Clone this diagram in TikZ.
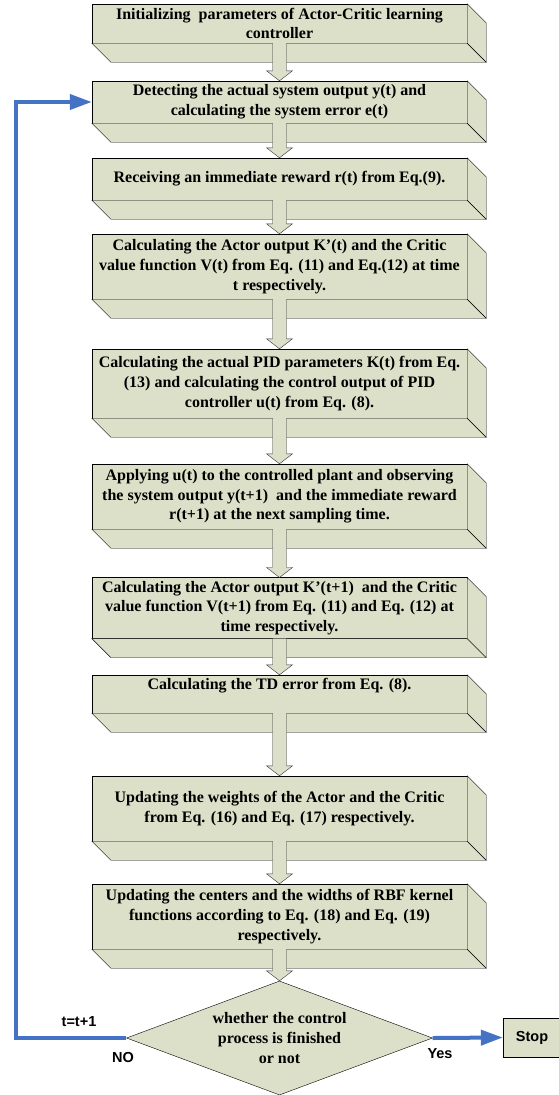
\documentclass[tikz,border=0pt]{standalone}
\usepackage{fontspec}
\setmainfont{Liberation Serif}
\setsansfont{Liberation Sans}
\usetikzlibrary{calc,arrows.meta,shapes.geometric}

\definecolor{boxfill}{RGB}{221,224,201}
\definecolor{loopblue}{RGB}{68,114,196}

\tikzset{
  txt/.style={font=\bfseries\fontsize{16}{19.7}\selectfont},
  stepbox/.style={txt, draw=black, fill=boxfill, align=center, inner xsep=2pt,
    minimum width=375pt},
  face/.style={draw=black, fill=boxfill},
  arrowbody/.style={draw=black!80, fill=boxfill},
  loopline/.style={draw=loopblue, line width=4pt, -{Triangle[length=22pt,width=15pt]}},
  lbl/.style={font=\sffamily\bfseries\fontsize{14.5}{17}\selectfont}
}

% bottom and right faces of a box
\newcommand{\depthfaces}[1]{%
  \draw[face] (#1.south west) -- ++(19,19) -- ($(#1.south east)+(19,19)$) -- (#1.south east) -- cycle;
  \draw[face] (#1.south east) -- ++(19,19) -- ($(#1.north east)+(19,19)$) -- (#1.north east) -- cycle;}

% hollow block arrow between two nodes
\newcommand{\blockarrow}[2]{%
  \draw[arrowbody] ($(#1.south)+(-7,0)$) -- ($(#2.north)+(-7,-10)$) -- ($(#2.north)+(-13,-10)$)
    -- (#2.north) -- ($(#2.north)+(13,-10)$) -- ($(#2.north)+(7,-10)$) -- ($(#1.south)+(7,0)$);}

\begin{document}
\begin{tikzpicture}[x=1pt, y=-1pt]
  \useasboundingbox (0,0) rectangle (559,1095);

  \node[stepbox, minimum height=39pt] (s1) at (279.5,23.5)
    {Initializing~ parameters of Actor-Critic learning\\controller};
  \node[stepbox, minimum height=42pt] (s2) at (279.5,102)
    {Detecting the actual system output y(t) and\\calculating the system error e(t)};
  \node[stepbox, minimum height=42pt] (s3) at (279.5,179)
    {Receiving an immediate reward r(t) from Eq.(9).};
  \node[stepbox, minimum height=65pt] (s4) at (279.5,266.5)
    {Calculating the Actor output K’(t) and the Critic\\value function V(t) from Eq. (11) and Eq.(12) at time\\t respectively.};
  \node[stepbox, minimum height=69pt] (s5) at (279.5,383.5)
    {Calculating the actual PID parameters K(t) from Eq.\\(13) and calculating the control output of PID\\controller u(t) from Eq. (8).};
  \node[stepbox, minimum height=65pt] (s6) at (279.5,496.5)
    {Applying u(t) to the controlled plant and observing\\the system output y(t+1)~ and the immediate reward\\r(t+1) at the next sampling time.};
  \node[stepbox, minimum height=58pt] (s7) at (279.5,608)
    {Calculating the Actor output K’(t+1)~ and the Critic\\value function V(t+1) from Eq. (11) and Eq. (12) at\\time respectively.};
  \node[stepbox, minimum height=38pt] (s8) at (279.5,694)
    {Calculating the TD error from Eq. (8).\\\mbox{}};
  \node[stepbox, minimum height=65pt] (s9) at (279.5,808.5)
    {Updating the weights of the Actor and the Critic\\from Eq. (16) and Eq. (17) respectively.};
  \node[stepbox, minimum height=65pt] (s10) at (279.5,916.5)
    {Updating the centers and the widths of RBF kernel\\functions according to Eq. (18) and Eq. (19)\\respectively.};

  \node[txt, diamond, draw=black, fill=boxfill, align=center, aspect=2.7, inner sep=0pt,
    minimum width=306pt, minimum height=114pt] (dec) at (279.5,1038)
    {whether the control\\process is finished\\or not};

  \node[draw=black, fill=boxfill, lbl, minimum width=58pt, minimum height=39pt] (stop) at (532,1037.5) {Stop};

  \foreach \i in {1,...,10} \depthfaces{s\i};

  \foreach \a/\b in {s1/s2, s2/s3, s3/s4, s4/s5, s5/s6, s6/s7, s7/s8, s8/s9, s9/s10, s10/dec}
    \blockarrow{\a}{\b};

  % loop back and exit
  \draw[loopline] (dec.west) -- ++(-110,0) |- (s2.west);
  \draw[loopline] (dec.east) -- (stop.west);

  \node[lbl] (inc) at (79,1022) {t=t+1};
  \node[lbl] (no) at (123,1057) {NO};
  \node[lbl] (yes) at (440,1054) {Yes};
\end{tikzpicture}
\end{document}
